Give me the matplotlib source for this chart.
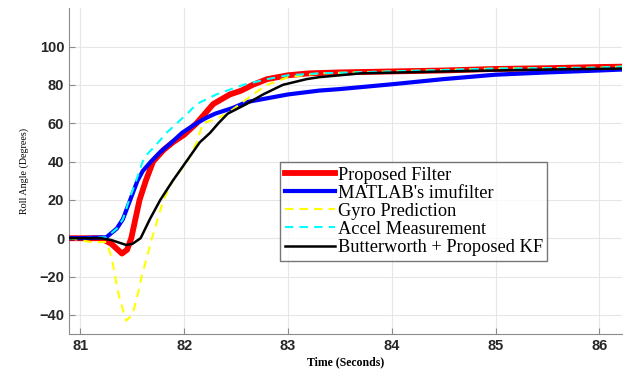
import numpy as np
import matplotlib.pyplot as plt

# readings (time in s, roll angle in deg)
t_red = [80.89, 81.0, 81.2, 81.3, 81.40, 81.45, 81.49, 81.57, 81.63, 81.70, 81.80, 81.89, 82.0, 82.12,
         82.2, 82.28, 82.44, 82.55, 82.66, 82.8, 83.0, 83.2, 83.5, 84.0, 84.5, 85.0, 85.5, 86.0, 86.22]
y_red = [0, 0, 0, -3, -8, -6, 0, 20, 30, 40, 46, 50, 54, 60,
         65, 70, 75, 77, 80, 83, 85, 86, 86.5, 87, 87.5, 88.3, 88.7, 89.3, 89.5]

t_blue = [80.89, 81.0, 81.25, 81.35, 81.41, 81.48, 81.55, 81.60, 81.68, 81.77, 81.88, 81.98, 82.12,
          82.22, 82.30, 82.47, 82.6, 82.8, 83.0, 83.3, 83.5, 84.0, 84.5, 85.0, 85.5, 86.0, 86.22]
y_blue = [0, 0, 0.5, 5, 10, 20, 30, 35, 40, 45, 50, 55, 60,
          63, 65, 68, 71, 73, 75, 77, 77.8, 80.3, 83, 85.3, 86.5, 87.5, 88]

t_gyro = [80.89, 81.0, 81.1, 81.25, 81.3, 81.37, 81.44, 81.5, 81.55, 81.59, 81.64, 81.69, 81.80, 81.89,
          82.03, 82.12, 82.18, 82.3, 82.41, 82.54, 82.66, 82.8, 83.0, 83.3, 84.0, 85.0, 86.0, 86.22]
y_gyro = [0, -1, -2, -2, -10, -30, -43, -40, -30, -20, -10, 0, 20, 30,
          40, 50, 60, 62, 65, 70, 75, 80, 84, 86, 87, 88.5, 89, 89.5]

t_acc = [80.89, 81.0, 81.25, 81.35, 81.41, 81.47, 81.55, 81.60, 81.63, 81.75, 81.83, 81.93, 82.03,
         82.12, 82.31, 82.57, 82.8, 83.0, 83.3, 84.0, 85.0, 86.0, 86.22]
y_acc = [0, 0, 0.5, 5, 10, 20, 32, 40, 43, 50, 55, 60, 65,
         70, 75, 80, 83, 85, 86, 87, 88.5, 89, 89.5]

t_butter = [80.89, 81.0, 81.2, 81.3, 81.44, 81.5, 81.58, 81.67, 81.77, 81.89, 82.02, 82.15, 82.25,
            82.33, 82.42, 82.6, 82.76, 82.95, 83.18, 83.3, 83.7, 84.5, 85.5, 86.22]
y_butter = [0, 0, 0, -1, -3.5, -3, 0, 10, 20, 30, 40, 50, 55,
            60, 65, 70, 75, 80, 83, 84, 86, 87, 88, 88.5]

labels = ['Proposed Filter', "MATLAB's imufilter", 'Gyro Prediction',
          'Accel Measurement', 'Butterworth + Proposed KF']

fig = plt.figure(figsize=(6.25, 3.72), dpi=100)
ax = fig.add_axes([0.1104, 0.102, 0.885, 0.876])

ax.plot(t_red, y_red, color='#ff0000', lw=4.2, label=labels[0], zorder=3)
ax.plot(t_blue, y_blue, color='#0000ff', lw=3, label=labels[1], zorder=4)
ax.plot(t_gyro, y_gyro, color='#ffff00', lw=1.5, ls=(0, (4, 3)), label=labels[2], zorder=5)
ax.plot(t_acc, y_acc, color='#00ffff', lw=1.5, ls=(0, (4, 3)), label=labels[3], zorder=5)
ax.plot(t_butter, y_butter, color='black', lw=1.8, label=labels[4], zorder=6)

ax.set_xlim(80.89, 86.22)
ax.set_ylim(-50, 120)
ax.set_xticks([81, 82, 83, 84, 85, 86])
ax.set_yticks([-40, -20, 0, 20, 40, 60, 80, 100])
ax.grid(True, color='#e6e6e6', lw=0.8)
ax.set_axisbelow(True)
for s in ['top', 'right']:
    ax.spines[s].set_visible(False)
for s in ['left', 'bottom']:
    ax.spines[s].set_color('#8c8c8c')
ax.tick_params(direction='in', length=4, colors='#8c8c8c', labelcolor='#262626')
for lab in ax.get_xticklabels() + ax.get_yticklabels():
    lab.set_fontfamily('Liberation Sans')
    lab.set_fontweight('bold')
    lab.set_fontsize(10.5)

ax.set_ylabel('Roll Angle (Degrees)', fontfamily='Liberation Serif', fontsize=7.2, labelpad=7)
fig.text(0.553, 0.027, 'Time (Seconds)', fontfamily='Liberation Serif', fontsize=8.5,
         fontweight='bold', ha='center', va='center')

leg = ax.legend(loc='upper left', bbox_to_anchor=(0.448, 0.5645), bbox_transform=fig.transFigure,
                prop={'family': 'Liberation Serif', 'size': 13.2}, frameon=True, fancybox=False,
                handlelength=2.75, handletextpad=0.15, labelspacing=0.06, borderpad=0.25,
                borderaxespad=0)
leg.get_frame().set_edgecolor('#555555')
leg.get_frame().set_linewidth(1)

fig.savefig('out.png', dpi=100)
